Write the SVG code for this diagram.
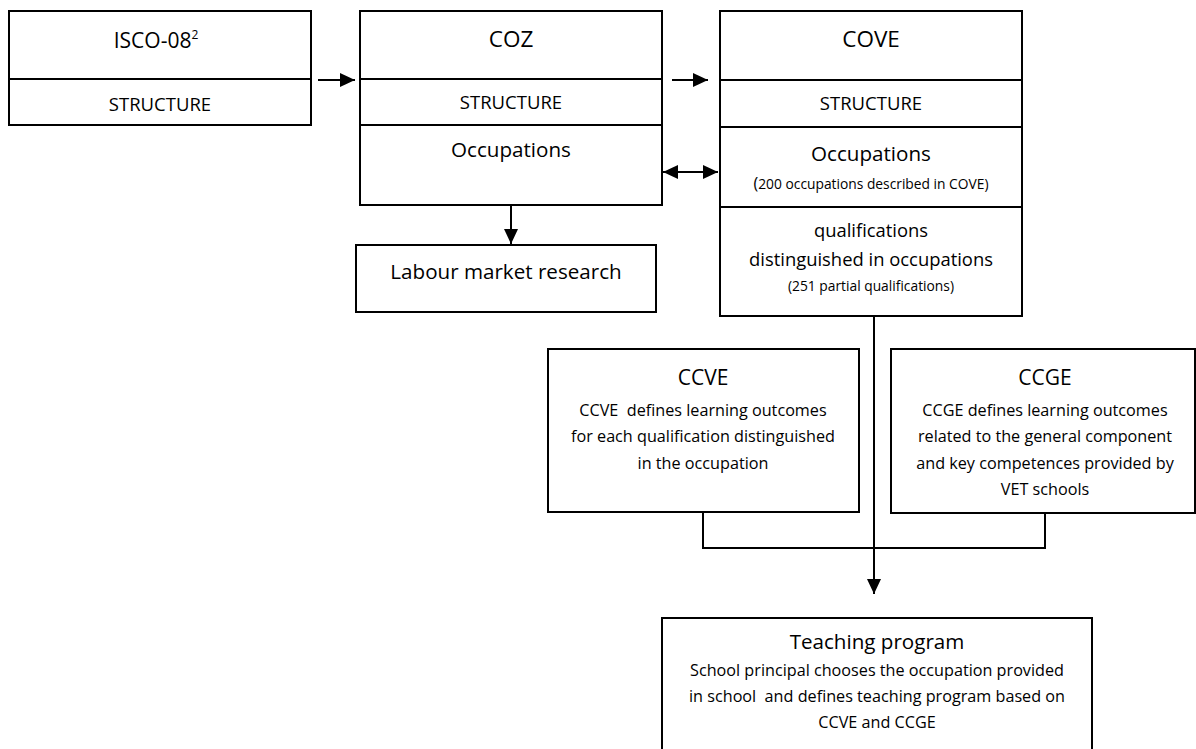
<svg xmlns="http://www.w3.org/2000/svg" width="1196" height="749" viewBox="0 0 1196 749">
<style>
  .box { fill: #fff; stroke: #000; stroke-width: 2; }
  .div { stroke: #000; stroke-width: 2; fill: none; }
  .con { stroke: #000; stroke-width: 2; fill: none; }
  text { font-family: "Open Sans", "Noto Sans", "Liberation Sans", sans-serif; fill: #000; text-anchor: middle; white-space: pre; }
  .t { font-size: 22.5px; }
  .ti { font-size: 21px; }
  .st { font-size: 18.5px; }
  .oc { font-size: 20.6px; }
  .q { font-size: 18.4px; }
  .sm { font-size: 13.8px; }
  .b { font-size: 16.2px; }
</style>
<defs>
  <marker id="ah" viewBox="0 0 15 14" refX="15" refY="7" markerWidth="15" markerHeight="14" markerUnits="userSpaceOnUse" orient="auto-start-reverse">
    <path d="M0,0 L15,7 L0,14 Z" fill="#000"/>
  </marker>
</defs>

<g id="connectors">
  <line class="con" x1="318" y1="80" x2="355" y2="80" marker-end="url(#ah)"/>
  <line class="con" x1="672" y1="80" x2="708" y2="80" marker-end="url(#ah)"/>
  <line class="con" x1="663" y1="172" x2="718" y2="172" marker-start="url(#ah)" marker-end="url(#ah)"/>
  <line class="con" x1="511" y1="205" x2="511" y2="244" marker-end="url(#ah)"/>
  <line class="con" x1="874" y1="316" x2="874" y2="594" marker-end="url(#ah)"/>
  <polyline class="con" points="703,512 703,548 1045,548 1045,513"/>
</g>

<g id="isco">
  <rect class="box" x="9" y="11" width="302" height="114"/>
  <line class="div" x1="9" y1="79" x2="311" y2="79"/>
  <text class="ti" x="156" y="48">ISCO-08<tspan font-size="12px" dy="-9">2</tspan></text>
  <text class="st" x="160" y="110.5">STRUCTURE</text>
</g>

<g id="coz">
  <rect class="box" x="360" y="11" width="302" height="194"/>
  <line class="div" x1="360" y1="79" x2="662" y2="79"/>
  <line class="div" x1="360" y1="125" x2="662" y2="125"/>
  <text class="t" x="511" y="47">COZ</text>
  <text class="st" x="511" y="109">STRUCTURE</text>
  <text class="oc" x="511" y="157">Occupations</text>
</g>

<g id="labour">
  <rect class="box" x="356" y="245" width="300" height="67"/>
  <text class="oc" x="506" y="279">Labour market research</text>
</g>

<g id="cove">
  <rect class="box" x="720" y="11" width="302" height="305"/>
  <line class="div" x1="720" y1="80" x2="1022" y2="80"/>
  <line class="div" x1="720" y1="127" x2="1022" y2="127"/>
  <line class="div" x1="720" y1="207" x2="1022" y2="207"/>
  <text class="t" x="871" y="47">COVE</text>
  <text class="st" x="871" y="110">STRUCTURE</text>
  <text class="oc" x="871" y="161">Occupations</text>
  <text class="sm" x="871" y="189"><tspan font-size="16px">(</tspan>200 occupations described in COVE)</text>
  <text class="q" x="871" y="237">qualifications</text>
  <text class="q" x="871" y="266">distinguished in occupations</text>
  <text class="sm" x="871" y="291">(251 partial qualifications)</text>
</g>

<g id="ccve">
  <rect class="box" x="548" y="349" width="311" height="163"/>
  <text class="ti" x="703" y="385">CCVE</text>
  <text class="b" x="703" y="416">CCVE  defines learning outcomes</text>
  <text class="b" x="703" y="442">for each qualification distinguished</text>
  <text class="b" x="703" y="469">in the occupation</text>
</g>

<g id="ccge">
  <rect class="box" x="891" y="349" width="304" height="164"/>
  <text class="ti" x="1045" y="385">CCGE</text>
  <text class="b" x="1045" y="416">CCGE defines learning outcomes</text>
  <text class="b" x="1045" y="442">related to the general component</text>
  <text class="b" x="1045" y="469">and key competences provided by</text>
  <text class="b" x="1045" y="495">VET schools</text>
</g>

<g id="teaching">
  <rect class="box" x="662" y="618" width="430" height="150"/>
  <text class="oc" x="877" y="649">Teaching program</text>
  <text class="b" x="877" y="676">School principal chooses the occupation provided</text>
  <text class="b" x="877" y="702">in school  and defines teaching program based on</text>
  <text class="b" x="877" y="728">CCVE and CCGE</text>
</g>
</svg>
